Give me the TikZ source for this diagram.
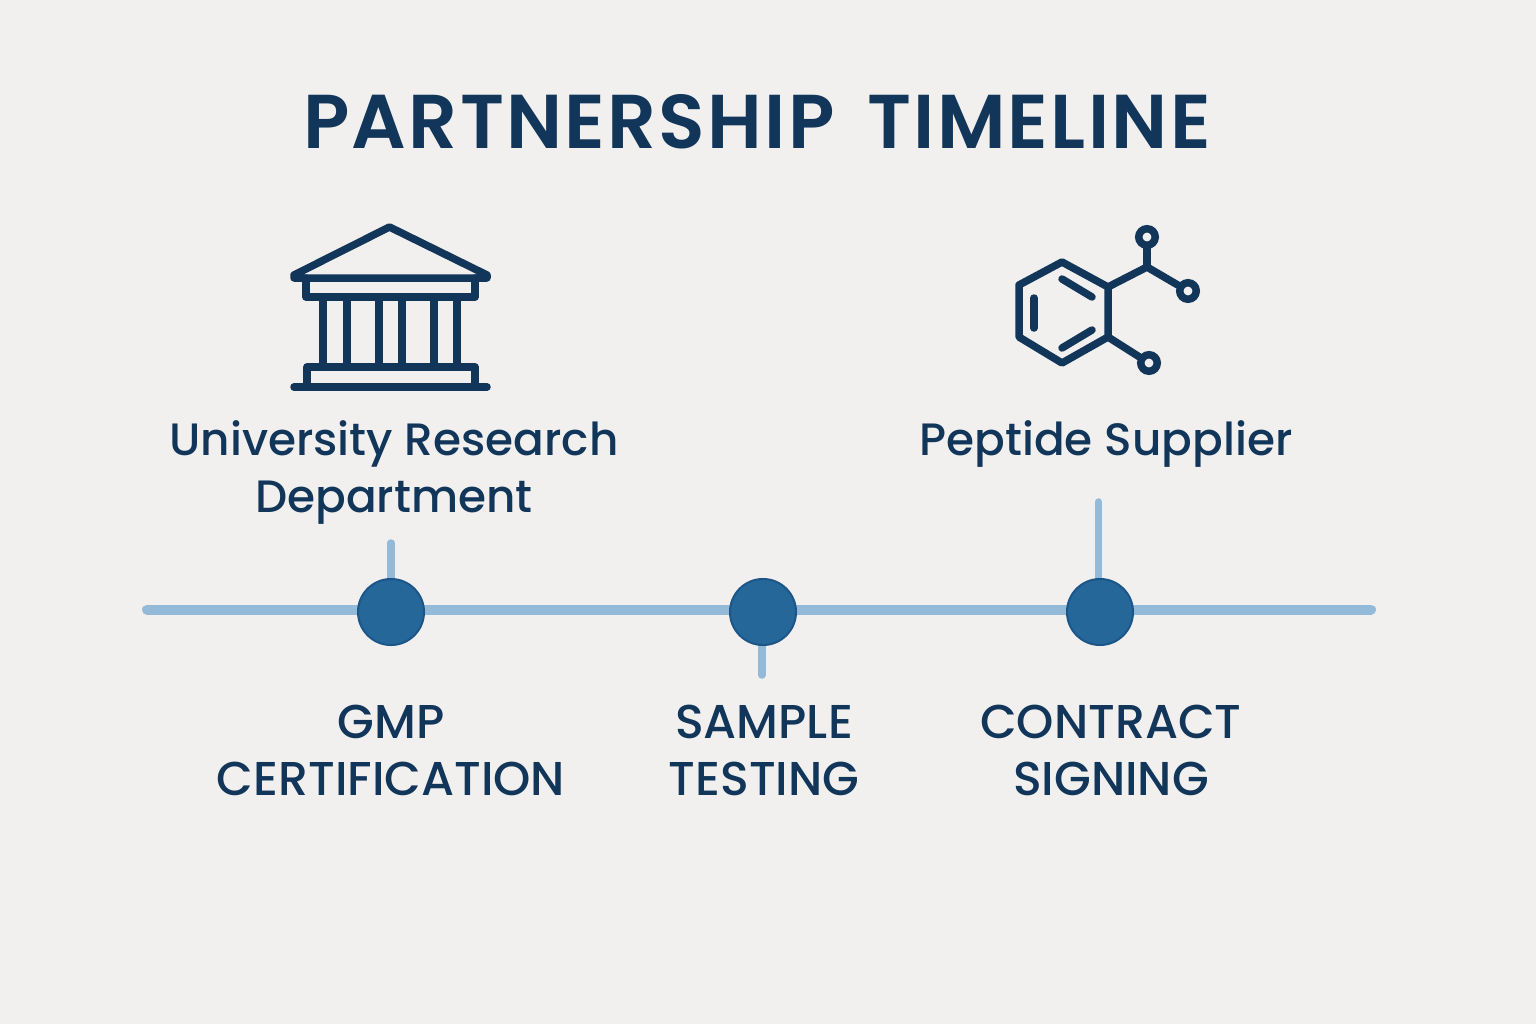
\documentclass[tikz,border=0pt]{standalone}
\usepackage{fontspec}
\setmainfont{Poppins Medium}
\newfontfamily\titlefont[LetterSpace=3.0,WordSpace=1.6]{Poppins SemiBold}
\definecolor{paper}{HTML}{F1F0EE}
\definecolor{navy}{HTML}{12355A}
\definecolor{lineblue}{HTML}{93BAD9}
\definecolor{dotblue}{HTML}{26679A}
\definecolor{dotedge}{HTML}{1C5588}
\tikzset{
    iconline/.style={draw=navy, line width=0.075cm, line join=round, line cap=round},
    ringdot/.style={circle, draw=navy, line width=0.075cm, fill=paper, minimum size=0.165cm, inner sep=0pt},
    milestone/.style={circle, fill=dotblue, draw=dotedge, line width=0.02cm, minimum size=0.66cm, inner sep=0pt},
    stem/.style={draw=lineblue, line width=0.075cm, line cap=round},
    label/.style={text=navy, align=center, font=\fontsize{13.5}{16.2}\selectfont},
    toplabel/.style={label, font=\fontsize{12.9}{16.2}\selectfont},
}
\begin{document}
\begin{tikzpicture}[x=0.01cm, y=-0.01cm]
    % Page background
    \fill[paper] (0,0) rectangle (1536,1024);
    \useasboundingbox (0,0) rectangle (1536,1024);

    % Title
    \node[text=navy, font=\fontsize{21.7}{26}\titlefont] (title) at (757,122) {PARTNERSHIP TIMELINE};

    % Building icon
    \draw[iconline] (294,275) -- (389.5,227) -- (487,275) -- (487,278) -- (294,278) -- cycle;
    \draw[iconline] (306,278) -- (306,297) -- (475,297) -- (475,278);
    \foreach \x in {323,347,379,402,434,457}
        \draw[iconline, line cap=butt] (\x,297) -- (\x,367);
    \draw[iconline] (307,387) -- (307,367) -- (475,367) -- (475,387);
    \draw[iconline] (294,387) -- (487,387);

    % Molecule icon
    \draw[iconline] (1062,262) -- (1108,287) -- (1108,337) -- (1062,363) -- (1019,337) -- (1019,285) -- cycle;
    \draw[iconline] (1062,279) -- (1092,297);
    \draw[iconline] (1062,348) -- (1092,330);
    \draw[iconline] (1034,298) -- (1034,328);
    \coordinate (fork) at (1147,267);
    \node[ringdot] (ringtop) at (1147,237) {};
    \node[ringdot] (ringright) at (1188,291) {};
    \node[ringdot] (ringbottom) at (1149,363) {};
    \draw[iconline] (1108,287) -- (fork);
    \draw[iconline] (fork) -- (ringtop);
    \draw[iconline] (fork) -- (ringright);
    \draw[iconline] (1108,337) -- (ringbottom);

    % Upper labels
    \node[toplabel] (university) at (394,472) {University Research\\Department};
    \node[toplabel] (supplier) at (1106,444) {Peptide Supplier};

    % Timeline
    \coordinate (linestart) at (147,609.5);
    \coordinate (lineend) at (1371,609.5);
    \coordinate (stemgmp) at (391,543);
    \coordinate (stemsample) at (762,675);
    \coordinate (stemcontract) at (1098.5,502);
    \draw[stem, line width=0.1cm] (linestart) -- (lineend);
    \draw[stem] (stemgmp) -- (391,590);
    \draw[stem] (stemsample) -- (762,630);
    \draw[stem] (stemcontract) -- (1098.5,590);
    \node[milestone] (gmp) at (391,612) {};
    \node[milestone] (sample) at (763,612) {};
    \node[milestone] (contract) at (1100,612) {};

    % Lower labels
    \node[label] (gmptext) at (391,750) {GMP\\CERTIFICATION};
    \node[label] (sampletext) at (764,750) {SAMPLE\\TESTING};
    \node[label] (contracttext) at (1111,750) {CONTRACT\\SIGNING};
\end{tikzpicture}
\end{document}
